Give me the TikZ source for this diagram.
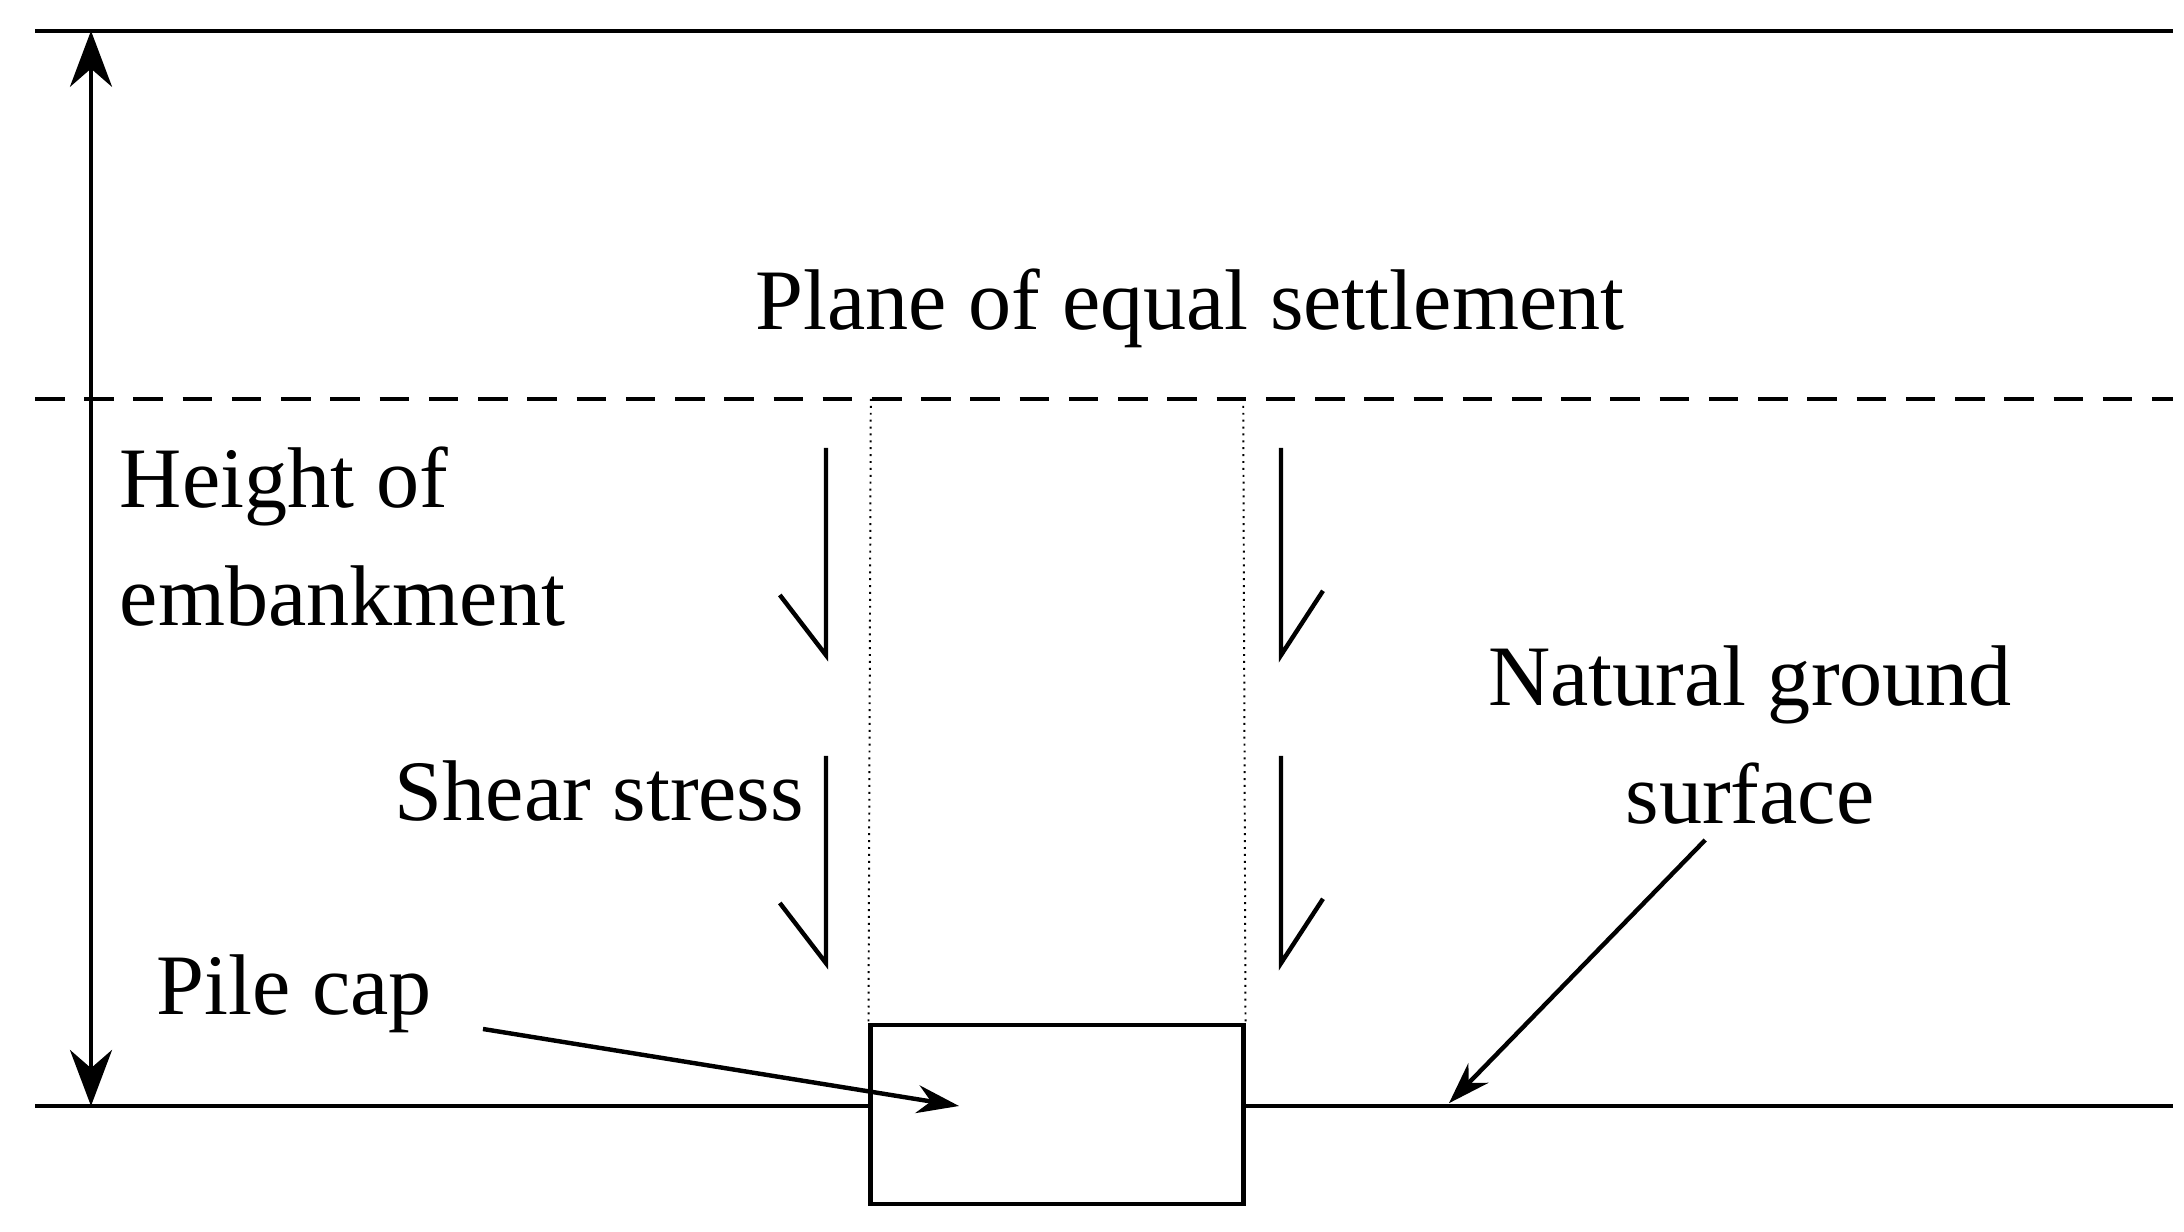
\documentclass[tikz,border=0pt]{standalone}
\usepackage{fontspec}
\setmainfont{Liberation Serif}
\usetikzlibrary{arrows.meta, positioning}

\begin{document}
\begin{tikzpicture}[
    x=0.01cm, y=-0.01cm,
    lbl/.style={font=\fontsize{17.5}{24}\selectfont, inner sep=0pt},
    line/.style={line width=0.9pt},
    arrow/.style={-{Stealth[length=3mm, width=2mm]}, line width=0.9pt},
    shear/.style={line width=0.9pt}
]
\useasboundingbox (0,0) rectangle (1560,880);

% --- Lines ---
\draw [line] (25,22) -- (1552,22);
\draw [line, dash pattern=on 6pt off 4pt] (25,285) -- (1552,285);
\coordinate (gl) at (25,790);
\coordinate (gr) at (1552,790);

% --- Pile cap ---
\node (cap) [draw, line width=0.9pt, minimum width=2.66cm, minimum height=1.28cm, inner sep=0pt] at (755,796) {};
\draw [line] (gl) -- (cap.west |- gl);
\draw [line] (cap.east |- gr) -- (gr);
\draw [densely dotted, thin] (622,285) -- (cap.north west);
\draw [densely dotted, thin] (888,285) -- (cap.north east);

% --- Height arrow ---
\coordinate (htop) at (65,22);
\coordinate (hbot) at (65,790);
\draw [{Stealth[length=4mm, width=3mm]}-{Stealth[length=4mm, width=3mm]}, line width=0.9pt] (htop) -- (hbot);

% --- Labels ---
\node (plane) [lbl] at (850,220) {Plane of equal settlement};
\node (height) [lbl, align=left, anchor=west] at (85,383) {Height of\\embankment};
\node (shear) [lbl, anchor=east] at (575,565) {Shear stress};
\node (pile) [lbl] at (210,710) {Pile cap};
\node (ground) [lbl, align=center] at (1250,525) {Natural ground\\surface};

% --- Shear stress half-arrows ---
\foreach \y in {0,220} {
    \draw [shear] (590,320+\y) -- (590,468+\y) -- (557,425+\y);
    \draw [shear] (915,320+\y) -- (915,468+\y) -- (945,422+\y);
}

% --- Pointers ---
\coordinate (pilept) at (685,790);
\coordinate (groundpt) at (1035,788);
\draw [arrow] (345,735) -- (pilept);
\draw [arrow] (1218,600) -- (groundpt);

\end{tikzpicture}
\end{document}
